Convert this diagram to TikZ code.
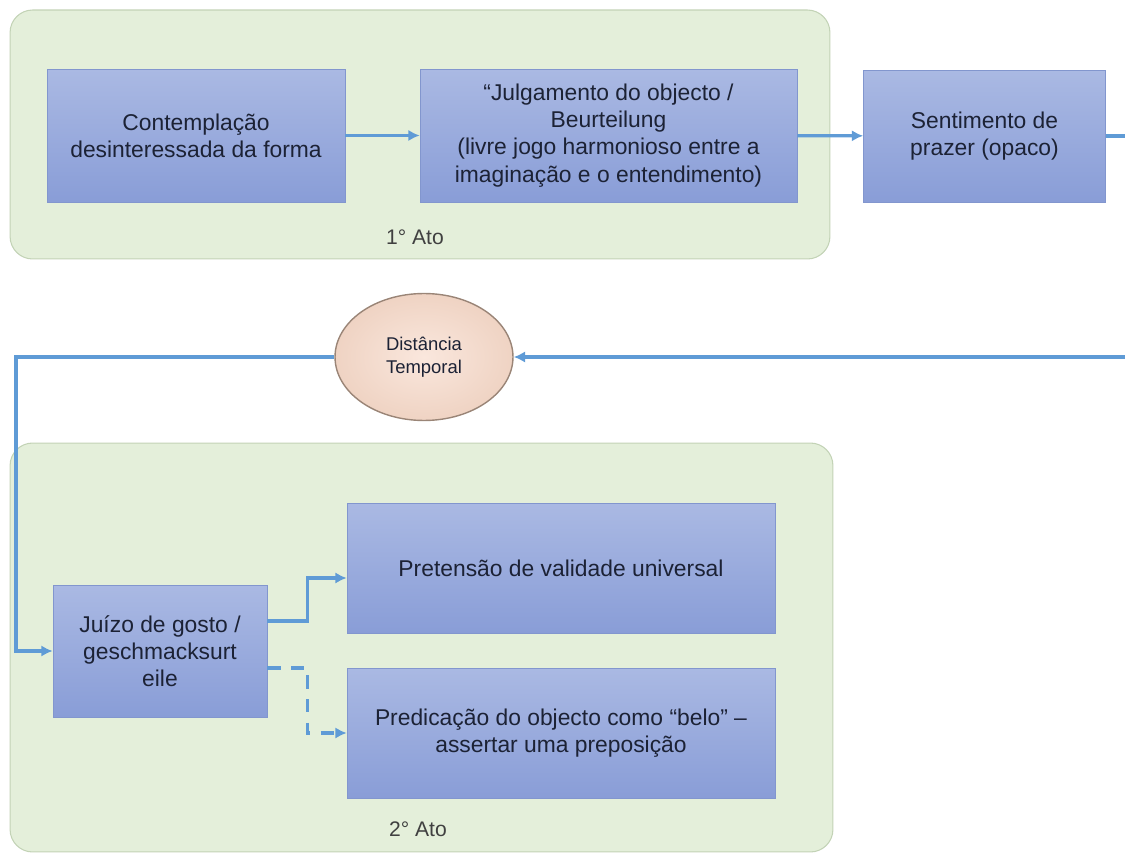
\documentclass[tikz,border=0pt]{standalone}
\usepackage{fontspec}
\setmainfont{Liberation Sans}
\usetikzlibrary{arrows.meta,shapes.geometric}

\definecolor{panelfill}{HTML}{E4EFDA}
\definecolor{paneldraw}{HTML}{C3D3B6}
\definecolor{boxtop}{HTML}{AAB9E3}
\definecolor{boxbot}{HTML}{899DD7}
\definecolor{boxdraw}{HTML}{8296CE}
\definecolor{flow}{HTML}{5F9BD6}
\definecolor{ink}{HTML}{1C2235}
\definecolor{ovalin}{HTML}{FAE7DD}
\definecolor{ovalout}{HTML}{EFD3C3}
\definecolor{ovaldraw}{HTML}{9A8577}

\tikzset{
  panel/.style={draw=paneldraw, fill=panelfill, rounded corners=0.45cm, line width=0.6pt},
  stage/.style={draw=boxdraw, top color=boxtop, bottom color=boxbot, text=ink,
    align=center, font=\fontsize{13}{15.5}\selectfont, inner sep=2pt},
  pause/.style={ellipse, draw=ovaldraw, line width=0.8pt, inner color=ovalin, outer color=ovalout,
    text=ink, align=center, font=\fontsize{10.5}{13}\selectfont,
    minimum width=3.56cm, minimum height=2.54cm},
  actlabel/.style={text=black!75, font=\fontsize{12}{14}\selectfont},
  flowline/.style={draw=flow, line width=1.9pt},
  flowarrow/.style={flowline, -{Latex[length=6.5pt,width=6.5pt]}},
}

\begin{document}
\begin{tikzpicture}[x=0.02cm,y=-0.02cm]
\useasboundingbox (0,0) rectangle (1125,854);

% the two acts
\node[panel, minimum width=16.4cm, minimum height=4.98cm] (act1) at (420,134.5) {};
\node[panel, minimum width=16.46cm, minimum height=8.18cm] (act2) at (421.5,647.5) {};
\node[actlabel] (act1txt) at (415,237) {1° Ato};
\node[actlabel] (act2txt) at (418,829) {2° Ato};

% first act
\node[stage, minimum width=5.96cm, minimum height=2.66cm] (contemp) at (196,135.5)
  {Contemplação\\desinteressada da forma};
\node[stage, minimum width=7.54cm, minimum height=2.66cm] (julg) at (608.5,135.5)
  {“Julgamento do objecto /\\Beurteilung\\(livre jogo harmonioso entre a\\imaginação e o entendimento)};
\node[stage, minimum width=4.84cm, minimum height=2.64cm] (prazer) at (984.5,136)
  {Sentimento de\\prazer (opaco)};

\draw[flowarrow] (contemp) -- (julg);
\draw[flowarrow] (julg) -- (prazer);
\coordinate (outtop) at (1125,136);
\draw[flowline] (prazer.east) -- (outtop);

% the pause
\node[pause] (dist) at (424,357) {Distância\\Temporal};
\coordinate (outlow) at (1125,357);
\coordinate (leftbend) at (16,357);
\draw[flowarrow] (outlow) -- (dist);

% second act
\node[stage, minimum width=4.28cm, minimum height=2.64cm] (juizo) at (160,651)
  {Juízo de gosto /\\geschmacksurt\\eile};
\node[stage, minimum width=8.56cm, minimum height=2.6cm] (pret) at (561,568)
  {Pretensão de validade universal};
\node[stage, minimum width=8.56cm, minimum height=2.6cm] (pred) at (561,733)
  {Predicação do objecto como “belo” –\\assertar uma preposição};

\draw[flowarrow] (dist.west) -- (leftbend) |- (juizo.west);
\draw[flowarrow] ([yshift=0.6cm]juizo.east) -- ++(40,0) |- ([yshift=-0.2cm]pret.west);
\draw[flowarrow, dash pattern=on 7.5pt off 6pt] ([yshift=-0.34cm]juizo.east) -- ++(40,0) |- (pred.west);
\end{tikzpicture}
\end{document}
